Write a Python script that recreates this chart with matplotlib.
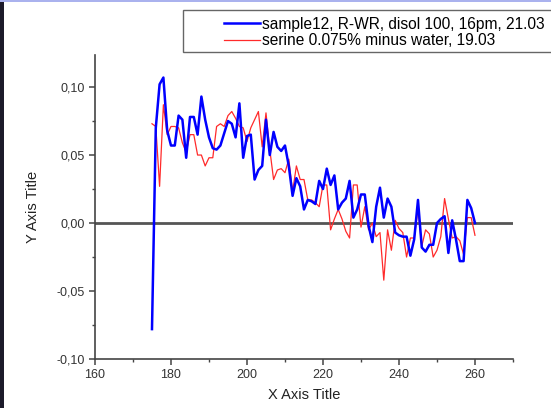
import matplotlib

matplotlib.use("Agg")
import matplotlib.pyplot as plt
from matplotlib.patches import Rectangle
from matplotlib.ticker import FuncFormatter, MultipleLocator

plt.rcParams["font.family"] = ["Liberation Sans", "DejaVu Sans"]

# sample12, R-WR, disol 100, 16pm, 21.03
blue_x = list(range(175, 261))
blue_y = [-0.078, 0.070, 0.102, 0.107, 0.068, 0.057, 0.057, 0.079, 0.076, 0.048,
          0.078, 0.078, 0.065, 0.093, 0.076, 0.063, 0.055, 0.054, 0.057, 0.066,
          0.075, 0.073, 0.063, 0.088, 0.048, 0.064, 0.065, 0.032, 0.039, 0.042,
          0.076, 0.050, 0.067, 0.056, 0.053, 0.057, 0.042, 0.020, 0.033, 0.027,
          0.010, 0.017, 0.016, 0.014, 0.031, 0.025, 0.040, 0.028, 0.035, 0.010,
          0.015, 0.018, 0.031, 0.004, 0.010, 0.021, 0.021, -0.002, -0.014, 0.012,
          0.026, 0.004, 0.018, 0.012, -0.007, -0.009, -0.010, -0.010, -0.024, -0.012,
          0.017, -0.018, -0.021, -0.016, -0.016, 0.000, 0.003, 0.005, -0.022, 0.002,
          -0.012, -0.028, -0.028, 0.017, 0.011, 0.000]

# serine 0.075% minus water, 19.03
red_x = list(range(175, 261))
red_y = [0.073, 0.071, 0.027, 0.087, 0.065, 0.071, 0.071, 0.070, 0.059, 0.052,
         0.065, 0.065, 0.050, 0.050, 0.042, 0.048, 0.048, 0.071, 0.073, 0.071,
         0.079, 0.082, 0.077, 0.071, 0.070, 0.060, 0.070, 0.076, 0.082, 0.056,
         0.081, 0.054, 0.032, 0.039, 0.040, 0.037, 0.047, 0.023, 0.042, 0.032,
         0.032, 0.017, 0.017, 0.015, 0.012, 0.028, 0.028, -0.005, 0.003, 0.010,
         0.003, -0.006, -0.011, 0.028, 0.028, -0.003, 0.012, -0.005, 0.000, -0.010,
         -0.007, -0.042, -0.005, -0.020, 0.002, -0.004, -0.007, -0.025, -0.011, -0.011,
         0.010, -0.017, -0.005, -0.008, -0.025, -0.020, -0.010, 0.018, 0.003, -0.011,
         -0.010, -0.013, -0.023, 0.004, 0.004, -0.009]

fig = plt.figure(figsize=(5.51, 4.08), dpi=100)
ax = fig.add_axes([0.1724, 0.120, 0.7586, 0.745])

ax.axhline(0, color="#555555", lw=2.0, zorder=1)
l1, = ax.plot(blue_x, blue_y, color="#0000ff", lw=1.8, zorder=3,
              label="sample12, R-WR, disol 100, 16pm, 21.03")
l2, = ax.plot(red_x, red_y, color="#ff2a2a", lw=0.9, zorder=2,
              label="serine 0.075% minus water, 19.03")

ax.set_xlim(160, 270)
ax.set_ylim(-0.10, 0.1235)
ax.xaxis.set_major_locator(MultipleLocator(20))
ax.xaxis.set_minor_locator(MultipleLocator(10))
ax.yaxis.set_major_locator(MultipleLocator(0.05))
ax.yaxis.set_minor_locator(MultipleLocator(0.025))
ax.yaxis.set_major_formatter(FuncFormatter(lambda v, p: f"{v:.2f}".replace(".", ",")))
for s in ("top", "right"):
    ax.spines[s].set_visible(False)
for s in ("left", "bottom"):
    ax.spines[s].set_color("#444444")
    ax.spines[s].set_linewidth(1.2)
ax.tick_params(which="major", direction="out", length=4, width=1.1,
               color="#444444", labelsize=9, labelcolor="#333333")
ax.tick_params(which="minor", direction="out", length=2.5, width=1.0, color="#444444")
ax.set_xlabel("X Axis Title", fontsize=10.5, color="#222222", labelpad=5)
ax.set_ylabel("Y Axis Title", fontsize=10.5, color="#222222", labelpad=12)

# legend box cut at the right edge of the screenshot
fig.patches.append(Rectangle((0.332, 0.873), 0.7, 0.102, transform=fig.transFigure,
                             fill=True, facecolor="white", edgecolor="#666666", lw=1.0))
fig.legend(handles=[l1, l2], loc="upper left", bbox_to_anchor=(0.384, 0.99),
           frameon=False, fontsize=11.2, handlelength=2.3, handletextpad=0.12,
           labelspacing=0.12, borderpad=0.3)

# screenshot edges
fig.patches.append(Rectangle((0, 0), 0.007, 1, transform=fig.transFigure,
                             facecolor="#1c1a2a", edgecolor="none"))
fig.patches.append(Rectangle((0, 0.994), 1, 0.006, transform=fig.transFigure,
                             facecolor="#aab2ee", edgecolor="none"))

fig.savefig("out.png", dpi=100)
